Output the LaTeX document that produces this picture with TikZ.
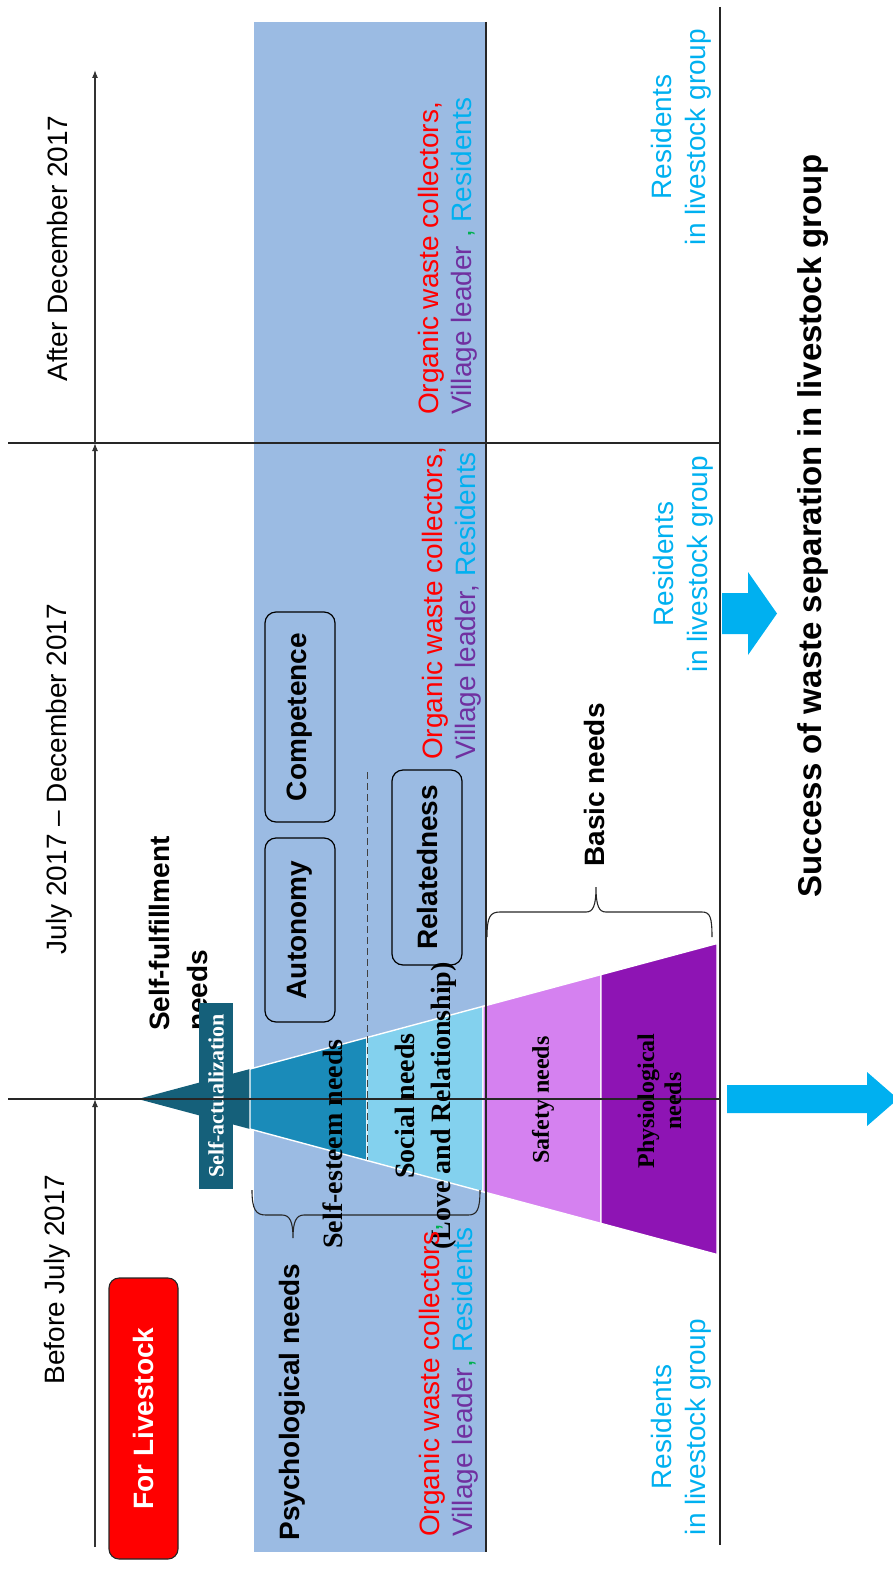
\documentclass[tikz,border=0pt]{standalone}
\usepackage{fontspec}
\setmainfont{Liberation Serif}
\setsansfont{Liberation Sans}
\usetikzlibrary{arrows.meta}
\definecolor{PANEL-BLUE}{RGB}{155,187,227}
\definecolor{SA-TEAL}{RGB}{21,96,122}
\definecolor{SE-BLUE}{RGB}{26,139,185}
\definecolor{SOC-BLUE}{RGB}{131,209,238}
\definecolor{SAF-LILAC}{RGB}{213,129,240}
\definecolor{PHY-PURPLE}{RGB}{142,20,180}
\definecolor{ARROW-CYAN}{RGB}{0,176,240}
\definecolor{ACT-RED}{RGB}{255,0,0}
\definecolor{ACT-PURPLE}{RGB}{112,48,160}
\definecolor{ACT-GREEN}{RGB}{0,176,80}

\tikzset{
  period/.style={rotate=90, inner sep=0pt, font=\sffamily\fontsize{28}{33}\selectfont},
  headline/.style={rotate=90, inner sep=0pt, font=\sffamily\bfseries\fontsize{28}{33}\selectfont},
  sdtbox/.style={draw, line width=1.2pt, rounded corners=11pt, rotate=90, minimum height=70pt,
    inner sep=0pt, font=\sffamily\bfseries\fontsize{28}{33}\selectfont},
  pyrtext/.style={rotate=90, inner sep=0pt, align=center, font=\rmfamily\bfseries\fontsize{28}{36}\selectfont},
  actors/.style={rotate=90, inner sep=0pt, anchor=west, align=left, font=\sffamily\fontsize{28}{33}\selectfont},
  resid/.style={rotate=90, inner sep=0pt, align=center, text=ARROW-CYAN, font=\sffamily\fontsize{28}{34}\selectfont},
  pyrseg/.style={fill=#1, draw=white, line width=1.4pt},
  divider/.style={black!85, line width=1.2pt},
  timeaxis/.style={black!80, line width=1.1pt, -{Latex[length=8pt,width=6pt]}},
  brace/.style={black!85, line width=1.1pt},
}

\begin{document}
\begin{tikzpicture}[x=1pt, y=-1pt]
  \useasboundingbox (0,0) rectangle (893,1573);
  \clip (0,0) rectangle (893,1573);

  % Panel behind the psychological needs
  \fill[PANEL-BLUE] (254,22) rectangle (486,1552);

  % Need pyramid (apex left, base right)
  \fill[SA-TEAL] (138,1099) -- (250,1069) -- (250,1129) -- cycle;
  \path[pyrseg=SE-BLUE] (250,1069) -- (367,1037.5) -- (367,1160.5) -- (250,1129) -- cycle;
  \path[pyrseg=SOC-BLUE] (367,1037.5) -- (483,1006.3) -- (483,1191.7) -- (367,1160.5) -- cycle;
  \path[pyrseg=SAF-LILAC] (483,1006.3) -- (601,974.6) -- (601,1223.4) -- (483,1191.7) -- cycle;
  \path[pyrseg=PHY-PURPLE] (601,974.6) -- (717,943.5) -- (717,1254.5) -- (601,1223.4) -- cycle;

  % Self-fulfillment label, partly hidden by the tag
  \node[headline, anchor=west, align=left, font=\sffamily\bfseries\fontsize{28}{38}\selectfont]
    (selffulfil) at (178,1031) {Self-fulfillment\\needs};
  \node[rotate=90, fill=SA-TEAL, text=white, minimum width=186pt, minimum height=34pt, inner sep=0pt,
    font=\rmfamily\bfseries\fontsize{22}{24}\selectfont] (selfact) at (216,1096) {Self-actualization};

  % Dividers
  \draw[divider] (8,443) -- (720,443);
  \draw[divider] (8,1099) -- (720,1099);
  \draw[divider] (720,7) -- (720,1545);
  \draw[divider] (486,22) -- (486,1552);

  % Time axis
  \coordinate (t0) at (95,1547);
  \coordinate (t1) at (95,1099);
  \coordinate (t2) at (95,443);
  \coordinate (t3) at (95,70);
  \draw[timeaxis] (t0) -- (t1);
  \draw[timeaxis] (t1) -- (t2);
  \draw[timeaxis] (t2) -- (t3);

  % Dashed split esteem / social
  \coordinate (dashtop) at (367,772);
  \coordinate (dashbot) at (367,1160);
  \draw[black!75, line width=1pt, dash pattern=on 7pt off 4pt] (dashtop) -- (dashbot);

  % Braces
  \draw[brace] (252,1190) .. controls (252,1210) and (256,1215) .. (266,1215) -- (282,1215)
    .. controls (290,1215) and (293,1222) .. (293,1238)
    .. controls (293,1222) and (296,1215) .. (304,1215) -- (468,1215)
    .. controls (477,1215) and (480,1210) .. (480,1190);
  \draw[brace] (487,937) .. controls (487,917) and (490,912) .. (500,912) -- (586,912)
    .. controls (593,912) and (596,906) .. (596,887)
    .. controls (596,906) and (599,912) .. (606,912) -- (702,912)
    .. controls (710,912) and (712,917) .. (712,937);

  % Periods
  \node[period] (after) at (57.5,248.5) {After December 2017};
  \node[period] (during) at (59,779) {July 2017 \textendash\ December 2017};
  \node[period] (before) at (57.5,1279.5) {Before July 2017};
  \node[rotate=90, draw=black!85, line width=1.1pt, fill=ACT-RED, rounded corners=10pt,
    minimum width=281pt, minimum height=69pt, inner sep=0pt, text=white,
    font=\sffamily\bfseries\fontsize{28}{33}\selectfont] (livestock) at (143.5,1418.5) {For Livestock};

  % Need groups
  \node[headline] (psych) at (292.5,1402) {Psychological needs};
  \node[headline] (basic) at (594,785) {Basic needs};

  % Self-determination boxes
  \node[sdtbox, minimum width=184pt] (autonomy) at (300,930) {Autonomy};
  \node[sdtbox, minimum width=210pt] (competence) at (300,717) {Competence};
  \node[sdtbox, minimum width=195pt] (relatedness) at (427,867.5) {Relatedness};

  % Pyramid levels
  \node[pyrtext] (esteem) at (333,1144) {Self-esteem needs};
  \node[pyrtext] (social) at (425.5,1106) {Social needs\\(Love and Relationship)};
  \node[pyrtext, font=\rmfamily\bfseries\fontsize{24}{27}\selectfont] (safety) at (543,1100) {Safety needs};
  \node[pyrtext, font=\rmfamily\bfseries\fontsize{24}{27}\selectfont] (physio) at (659.5,1101) {Physiological\\needs};

  % Actors per period
  \node[actors] (actors1) at (449,1537) {\textcolor{ACT-RED}{Organic waste collectors}\textcolor{ACT-GREEN}{,}\\
    \textcolor{ACT-PURPLE}{Village leader}\textcolor{ACT-GREEN}{,} \textcolor{ARROW-CYAN}{Residents}};
  \node[actors] (actors2) at (451.5,760) {\textcolor{ACT-RED}{Organic waste collectors,}\\
    \textcolor{ACT-PURPLE}{Village leader,} \textcolor{ARROW-CYAN}{Residents}};
  \node[actors] (actors3) at (447.5,415) {\textcolor{ACT-RED}{Organic waste collectors,}\\
    \textcolor{ACT-PURPLE}{Village leader} \textcolor{ACT-GREEN}{,} \textcolor{ARROW-CYAN}{Residents}};

  % Residents in livestock group
  \node[resid] (res1) at (681,1427) {Residents\\in livestock group};
  \node[resid] (res2) at (683,564) {Residents\\in livestock group};
  \node[resid] (res3) at (681.5,137) {Residents\\in livestock group};

  % Block arrows
  \fill[ARROW-CYAN] (722,593) -- (748,593) -- (748,572) -- (777,613.5) -- (748,655) -- (748,634) -- (722,634) -- cycle;
  \fill[ARROW-CYAN] (727,1085) -- (867,1085) -- (867,1072) -- (898,1099) -- (867,1126) -- (867,1113) -- (727,1113) -- cycle;

  % Result
  \node[rotate=90, inner sep=0pt, font=\sffamily\bfseries\fontsize{33}{36}\selectfont]
    (success) at (813.5,526) {Success of waste separation in livestock group};
\end{tikzpicture}
\end{document}
